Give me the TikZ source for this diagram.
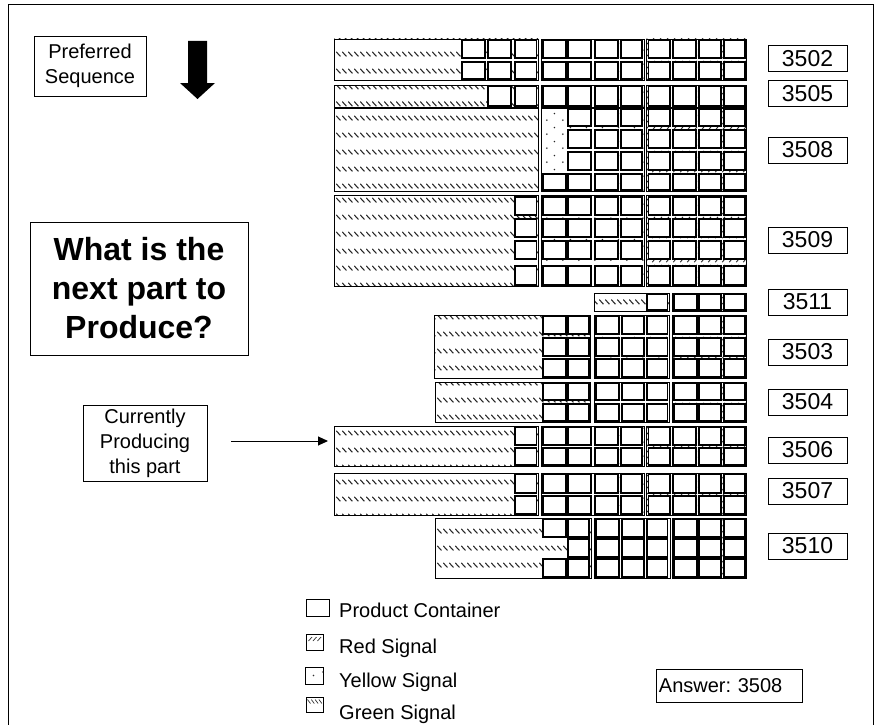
\documentclass[tikz,border=0pt]{standalone}
\usepackage{fontspec}
\setmainfont{Liberation Sans}
\usetikzlibrary{patterns,arrows.meta}

\pgfdeclarepatternformonly{greensig}{\pgfpointorigin}{\pgfpoint{5.6pt}{16.5pt}}{\pgfpoint{5.6pt}{16.5pt}}{%
  \pgfsetlinewidth{1.1pt}%
  \pgfpathmoveto{\pgfpoint{0.3pt}{13.4pt}}%
  \pgfpathlineto{\pgfpoint{4.7pt}{8.8pt}}%
  \pgfusepath{stroke}}
\pgfdeclarepatternformonly{redsig}{\pgfpointorigin}{\pgfpoint{7pt}{6pt}}{\pgfpoint{7pt}{6pt}}{%
  \pgfsetlinewidth{1pt}%
  \pgfpathmoveto{\pgfpoint{1.5pt}{1pt}}%
  \pgfpathlineto{\pgfpoint{4.5pt}{4.8pt}}%
  \pgfusepath{stroke}}
\pgfdeclarepatternformonly{yellowsig}{\pgfpointorigin}{\pgfpoint{16pt}{14pt}}{\pgfpoint{16pt}{14pt}}{%
  \pgfpathcircle{\pgfpoint{3pt}{3pt}}{0.9pt}%
  \pgfpathcircle{\pgfpoint{11pt}{10pt}}{0.9pt}%
  \pgfusepath{fill}}

\tikzset{
  frameline/.style={draw=black, line width=0.9pt},
  grpline/.style={draw=black, line width=0.95pt, pattern color=black!85},
  ctr/.style={draw=black, line width=1.05pt, fill=white},
  lbl/.style={draw=black, line width=0.9pt, minimum width=79pt, minimum height=26pt,
    inner sep=0pt, font=\fontsize{23}{26}\selectfont},
  txtbox/.style={draw=black, line width=0.9pt, align=center, inner sep=0pt,
    font=\fontsize{20}{25}\selectfont},
  bigbox/.style={draw=black, line width=0.9pt, align=center, inner sep=0pt,
    font=\fontsize{32}{39}\selectfont\bfseries},
  legtxt/.style={anchor=base west, inner sep=0pt, font=\fontsize{20}{24}\selectfont},
  icon/.style={draw=black, line width=0.9pt, fill=white},
  iconmark/.style={draw=black!80, line width=0.7pt},
  arr/.style={draw=black, line width=1pt, -{Triangle[length=10pt,width=9pt]}},
}

\newcommand\grpbox[5]{\draw[grpline, pattern=#5] (#1,#2) rectangle (#3,#4);}
\newcommand\crow[2]{\foreach \ya/\yb in {#1}{\foreach \xa/\xb in #2 {\draw[ctr] (\xa,\ya) rectangle (\xb,\yb);}}}

\def\UG{462/485,488/511,515/536.5}
\def\UY{543/566,568/591,595/618,621/642}
\def\UR{648.5/670,673/696,699/721,724/745}
\def\LG{543/566,568/589}
\def\LY{596/619,622/644,647/667.5}
\def\LR{674/697,699/721,724/745}

\frenchspacing
\begin{document}
\begin{tikzpicture}[x=1pt,y=-1pt]
\fill[white] (0,0) rectangle (878,725);
\useasboundingbox (0,0) rectangle (878,725);

% outer frame (open at the bottom)
\draw[frameline] (8,726) -- (8,4) -- (873,4) -- (873,726);

% ---------- board ----------
% 3502
\grpbox{334}{39}{538}{80}{greensig}
\grpbox{541}{39}{644}{80}{yellowsig}
\grpbox{646.5}{39}{746}{80}{redsig}
\crow{40/58,62/79}{\UG}
\crow{40/58,62/79}{\UY}
\crow{40/58,62/79}{\UR}
% 3505
\grpbox{334}{85}{538}{107}{greensig}
\grpbox{541}{85}{644}{107}{yellowsig}
\grpbox{646.5}{85}{746}{107}{redsig}
\def\tmp{488/511,515/536.5}
\crow{86/106}{\tmp}
\crow{86/106}{\UY}
\crow{86/106}{\UR}
% 3508
\grpbox{334}{108}{538}{191}{greensig}
\grpbox{541}{108}{644}{191}{yellowsig}
\grpbox{646.5}{108}{746}{191}{redsig}
\def\tmp{568/591,595/618,621/642}
\crow{109/126,130/148,152/170}{\tmp}
\crow{174/190}{\UY}
\crow{109/126,130/148,152/170,174/190}{\UR}
% 3509
\grpbox{334}{195}{538}{286}{greensig}
\grpbox{541}{195}{644}{286}{yellowsig}
\grpbox{646.5}{195}{746}{286}{redsig}
\def\tmp{515/536.5}
\crow{197/215,219/237,241/259,266/285}{\tmp}
\crow{197/215,219/237,241/259,266/285}{\UY}
\crow{197/215,219/237,241/259,266/285}{\UR}
% 3511
\grpbox{594}{293}{669}{311}{greensig}
\grpbox{672}{293}{746}{311}{redsig}
\def\tmp{647/667.5}
\crow{294/310}{\tmp}
\crow{294/310}{\LR}
% 3503
\grpbox{434}{315}{590}{378}{greensig}
\grpbox{594}{315}{669}{378}{yellowsig}
\grpbox{672}{315}{746}{378}{redsig}
\crow{316/334,338/356,359/377}{\LG}
\crow{316/334,338/356,359/377}{\LY}
\crow{316/334,338/356,359/377}{\LR}
% 3504
\grpbox{435}{382}{590}{422}{greensig}
\grpbox{594}{382}{669}{422}{yellowsig}
\grpbox{672}{382}{746}{422}{redsig}
\crow{383/400,404/421}{\LG}
\crow{383/400,404/421}{\LY}
\crow{383/400,404/421}{\LR}
% 3506
\grpbox{334}{426}{538}{466}{greensig}
\grpbox{541}{426}{644}{466}{yellowsig}
\grpbox{646.5}{426}{746}{466}{redsig}
\def\tmp{515/536.5}
\crow{427/445,448/465}{\tmp}
\crow{427/445,448/465}{\UY}
\crow{427/445,448/465}{\UR}
% 3507
\grpbox{334}{473}{538}{515}{greensig}
\grpbox{541}{473}{644}{515}{yellowsig}
\grpbox{646.5}{473}{746}{515}{redsig}
\crow{474/493,496/514}{\tmp}
\crow{474/493,496/514}{\UY}
\crow{474/493,496/514}{\UR}
% 3510
\grpbox{435}{518}{591}{578}{greensig}
\grpbox{594.5}{518}{670}{578}{yellowsig}
\grpbox{672.5}{518}{746}{578}{redsig}
\def\tmp{568/589}
\crow{519/537,559/577}{\LG}
\crow{539/557}{\tmp}
\crow{519/537,539/557,559/577}{\LY}
\crow{519/537,539/557,559/577}{\LR}

% ---------- part labels ----------
\node[lbl] (l3502) at (807.5,58.5) {3502};
\node[lbl] (l3505) at (807.5,93.5) {3505};
\node[lbl] (l3508) at (807.5,150) {3508};
\node[lbl] (l3509) at (807.5,240) {3509};
\node[lbl] (l3511) at (807.5,302) {3511};
\node[lbl] (l3503) at (807.5,352) {3503};
\node[lbl] (l3504) at (807.5,402) {3504};
\node[lbl] (l3506) at (807.5,450) {3506};
\node[lbl] (l3507) at (807.5,491) {3507};
\node[lbl] (l3510) at (807.5,546) {3510};

% ---------- left side ----------
\node[txtbox, minimum width=112pt, minimum height=60pt] (pref) at (90,66) {Preferred\\Sequence};
\fill (188,41) -- (207,41) -- (207,83) -- (215,83) -- (197.5,99) -- (180,83) -- (188,83) -- cycle;

\node[bigbox, minimum width=218pt, minimum height=133pt] (what) at (139,288.5) {What is the\\next part to\\Produce?};

\node[txtbox, minimum width=124pt, minimum height=76pt] (cur) at (145,443) {Currently\\Producing\\this part};
\coordinate (row3506) at (328,441);
\draw[arr, shorten <=24pt] (cur.east |- row3506) -- (row3506);

% ---------- legend ----------
\draw[icon] (306,599) rectangle (329,616);
\node[legtxt] (lg1) at (339,617) {Product Container};
\draw[icon] (306,634.5) rectangle (323,650);
\foreach \i in {0,1,2} \draw[iconmark] (308.5+4.5*\i,641) -- (312+4.5*\i,637);
\node[legtxt] (lg2) at (339,653) {Red Signal};
\draw[icon] (305,667) rectangle (323,684);
\fill[black!80] (313.5,675.5) circle (0.9pt);
\fill[black!80] (322.5,672) circle (0.6pt);
\node[legtxt] (lg3) at (339,687) {Yellow Signal};
\draw[icon] (306,697) rectangle (323,712);
\foreach \i in {0,1,2,3} \draw[iconmark] (307.5+3.8*\i,699.5) -- (310.5+3.8*\i,703.5);
\node[legtxt] (lg4) at (339,719) {Green Signal};

% ---------- answer ----------
\node[draw=black, line width=0.9pt, anchor=north west, minimum width=146pt, minimum height=33pt,
  inner sep=0pt, text width=141pt, align=left, font=\fontsize{20}{24}\selectfont] (ans) at (656,669) {Answer: 3508};
\end{tikzpicture}
\end{document}
